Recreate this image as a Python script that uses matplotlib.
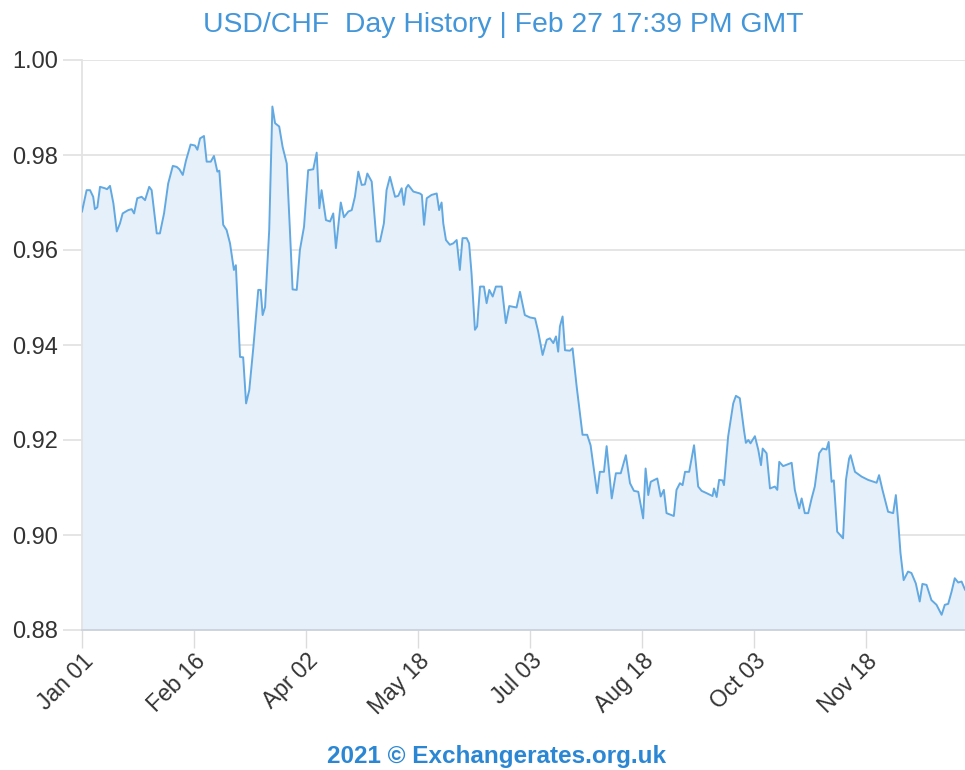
import matplotlib
matplotlib.use("Agg")
import matplotlib.pyplot as plt
import matplotlib.transforms as mtransforms
import numpy as np

plt.rcParams['font.family'] = ['Liberation Sans', 'DejaVu Sans']

# Days since Jan 01 and USD/CHF rate
days = [0.0, 1.9, 3.3, 4.6, 5.3, 6.3, 7.4, 9.4, 10.3, 11.5, 12.9, 14.3, 15.6, 16.7, 17.7, 19.0,
        20.4, 21.4, 22.7, 24.5, 25.9, 27.6, 28.6, 30.7, 32.0, 33.7, 35.4, 37.3, 38.9, 40.0,
        41.4, 42.7, 44.6, 46.4, 47.4, 48.5, 50.1, 51.2, 52.9, 54.2, 55.6, 56.4, 58.0, 59.4,
        60.8, 62.4, 63.2, 64.9, 66.2, 67.4, 68.7, 70.4, 72.4, 73.4, 74.2, 75.2, 76.9, 78.2,
        79.3, 81.0, 82.4, 84.1, 85.4, 86.5, 88.2, 89.5, 91.2, 92.9, 95.0, 96.4, 97.5, 98.4,
        100.2, 101.9, 103.2, 104.3, 106.3, 107.6, 109.4, 110.8, 112.1, 113.5, 114.9, 116.2,
        117.2, 119.0, 121.0, 122.4, 124.0, 125.1, 126.5, 128.6, 129.9, 131.3, 132.2, 133.1,
        134.0, 136.1, 138.8, 139.6, 140.5, 141.6, 143.6, 145.7, 146.7, 147.7, 148.4, 149.5,
        151.1, 152.5, 153.9, 155.2, 156.3, 158.0, 159.0, 160.0, 161.4, 162.3, 163.5, 165.1,
        166.2, 167.3, 168.7, 170.0, 172.4, 174.1, 175.5, 178.5, 179.9, 181.9, 184.0, 186.1,
        187.4, 189.2, 190.9, 192.2, 193.6, 194.7, 195.6, 196.3, 197.4, 198.4, 200.4, 201.5,
        203.2, 205.6, 207.5, 208.9, 210.3, 211.6, 212.7, 214.4, 215.5, 217.6, 219.3, 221.3,
        223.4, 225.1, 226.7, 228.5, 230.5, 231.5, 232.6, 233.6, 236.3, 237.7, 239.0, 240.1,
        243.1, 244.2, 245.6, 246.7, 247.7, 249.4, 251.4, 253.1, 254.5, 256.6, 259.0, 259.6,
        260.7, 261.7, 263.1, 263.7, 265.4, 267.5, 268.6, 270.2, 271.9, 272.7, 273.7, 274.6,
        276.4, 277.8, 278.9, 279.6, 281.2, 282.6, 284.6, 285.6, 286.4, 288.0, 291.5, 292.8,
        294.6, 295.6, 296.9, 298.3, 299.7, 301.0, 302.8, 304.2, 305.8, 306.7, 307.9, 308.8,
        310.2, 312.6, 313.8, 315.1, 315.7, 317.5, 320.2, 322.9, 326.4, 327.4, 328.8, 331.1,
        333.2, 334.3, 335.2, 336.2, 337.5, 339.3, 340.7, 342.5, 344.1, 345.2, 346.9, 348.9,
        351.0, 353.1, 354.4, 355.8, 357.2, 358.5, 359.9, 361.3, 362.7]

rates = [0.9681, 0.9726, 0.9726, 0.9712, 0.9686, 0.9690, 0.9733, 0.9730, 0.9728, 0.9735, 0.9698,
         0.9639, 0.9656, 0.9677, 0.9680, 0.9684, 0.9686, 0.9677, 0.9709, 0.9712, 0.9705, 0.9733,
         0.9726, 0.9635, 0.9635, 0.9677, 0.9740, 0.9777, 0.9775, 0.9770, 0.9758, 0.9788, 0.9822,
         0.9820, 0.9811, 0.9835, 0.9840, 0.9786, 0.9786, 0.9798, 0.9765, 0.9767, 0.9653, 0.9642,
         0.9614, 0.9558, 0.9568, 0.9375, 0.9374, 0.9277, 0.9305, 0.9396, 0.9516, 0.9516, 0.9463,
         0.9480, 0.9642, 0.9902, 0.9867, 0.9860, 0.9817, 0.9782, 0.9642, 0.9517, 0.9516, 0.9600,
         0.9649, 0.9768, 0.9770, 0.9805, 0.9688, 0.9726, 0.9663, 0.9660, 0.9677, 0.9604, 0.9700,
         0.9669, 0.9681, 0.9684, 0.9712, 0.9765, 0.9737, 0.9738, 0.9761, 0.9744, 0.9618, 0.9618,
         0.9656, 0.9726, 0.9754, 0.9712, 0.9714, 0.9730, 0.9695, 0.9730, 0.9737, 0.9723, 0.9719,
         0.9716, 0.9653, 0.9709, 0.9716, 0.9719, 0.9684, 0.9700, 0.9656, 0.9621, 0.9611, 0.9614,
         0.9621, 0.9558, 0.9625, 0.9625, 0.9614, 0.9551, 0.9432, 0.9439, 0.9523, 0.9523, 0.9488,
         0.9516, 0.9502, 0.9523, 0.9523, 0.9446, 0.9482, 0.9479, 0.9512, 0.9463, 0.9458, 0.9456,
         0.9428, 0.9379, 0.9411, 0.9414, 0.9404, 0.9418, 0.9386, 0.9439, 0.9460, 0.9389, 0.9388,
         0.9393, 0.9312, 0.9211, 0.9211, 0.9189, 0.9137, 0.9088, 0.9133, 0.9133, 0.9187, 0.9077,
         0.9130, 0.9130, 0.9168, 0.9109, 0.9093, 0.9091, 0.9035, 0.9140, 0.9084, 0.9112, 0.9119,
         0.9081, 0.9095, 0.9046, 0.9040, 0.9095, 0.9109, 0.9105, 0.9133, 0.9133, 0.9189, 0.9102,
         0.9093, 0.9088, 0.9082, 0.9098, 0.9080, 0.9116, 0.9115, 0.9105, 0.9207, 0.9277, 0.9293,
         0.9288, 0.9221, 0.9194, 0.9200, 0.9193, 0.9208, 0.9179, 0.9147, 0.9182, 0.9172, 0.9098,
         0.9102, 0.9095, 0.9154, 0.9145, 0.9152, 0.9095, 0.9056, 0.9077, 0.9046, 0.9046, 0.9077,
         0.9102, 0.9172, 0.9182, 0.9180, 0.9196, 0.9112, 0.9115, 0.9007, 0.8993, 0.9116, 0.9161,
         0.9168, 0.9133, 0.9123, 0.9116, 0.9110, 0.9126, 0.9095, 0.9049, 0.9046, 0.9084, 0.9032,
         0.8962, 0.8905, 0.8923, 0.8920, 0.8898, 0.8860, 0.8897, 0.8895, 0.8863, 0.8853, 0.8832,
         0.8853, 0.8855, 0.8881, 0.8909, 0.8900, 0.8902, 0.8885]

xtick_days = [0, 46, 92, 138, 184, 230, 276, 322]
xtick_labels = ['Jan 01', 'Feb 16', 'Apr 02', 'May 18', 'Jul 03', 'Aug 18', 'Oct 03', 'Nov 18']
ytick_vals = [0.88, 0.90, 0.92, 0.94, 0.96, 0.98, 1.00]

title = "USD/CHF  Day History | Feb 27 17:39 PM GMT"
footer = "2021 \u00a9 Exchangerates.org.uk"

fig = plt.figure(figsize=(9.65, 7.70), dpi=100)
ax = fig.add_axes([82 / 965, 1 - 630 / 770, 1 - 82 / 965, (630 - 60) / 770])

line_col = '#62a9e2'
fill_col = '#e6f0fa'
grid_col = '#e3e3e3'

ax.fill_between(days, rates, 0.88, color=fill_col, lw=0, zorder=1)
ax.plot(days, rates, color=line_col, lw=1.4, zorder=3)

ax.set_xlim(0, 362.7)
ax.set_ylim(0.88, 1.00)
ax.set_yticks(ytick_vals)
ax.set_yticklabels([f"{v:.2f}" for v in ytick_vals])
ax.set_xticks(xtick_days)
ax.set_xticklabels(xtick_labels, rotation=45, ha='right', rotation_mode='anchor')

# shift x tick labels slightly right to match reference placement
offset = mtransforms.ScaledTranslation(6 / 100, 0, fig.dpi_scale_trans)
for lbl in ax.get_xticklabels():
    lbl.set_transform(lbl.get_transform() + offset)

ax.yaxis.grid(True, color=grid_col, lw=1.3, zorder=0)
ax.set_axisbelow(True)

for s in ['top', 'right']:
    ax.spines[s].set_visible(False)
ax.spines['left'].set_color(grid_col)
ax.spines['left'].set_linewidth(1.3)
ax.spines['bottom'].set_color('#ccd2dc')
ax.spines['bottom'].set_linewidth(1.3)

ax.tick_params(axis='y', length=14, width=1.3, color=grid_col, labelsize=17,
               labelcolor='#333333', pad=3)
ax.tick_params(axis='x', length=13, width=1.0, color='#dcdcdc', labelsize=16.5,
               labelcolor='#333333', pad=1)

fig.text(503 / 965, 1 - 25 / 770, title, ha='center', va='center',
         fontsize=20.4, color='#4396d9')
fig.text(497 / 965, 1 - 756 / 770, footer, ha='center', va='center',
         fontsize=17.5, fontweight='bold', color='#2b87d3')

fig.savefig('out.png', dpi=100)
